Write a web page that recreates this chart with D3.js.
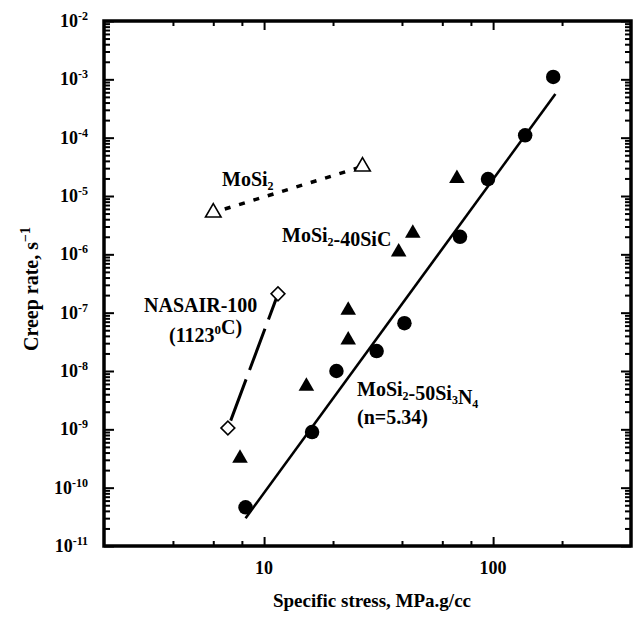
<!DOCTYPE html>
<html>
<head>
    <meta charset="utf-8">
    <script src="https://d3js.org/d3.v7.min.js"></script>
    <style>
        body { margin: 0; background: #fff; }
        text { font-family: "Liberation Serif", "Times New Roman", serif; font-weight: bold; fill: #000; }
        .tick line { stroke: #000; stroke-width: 2px; }
    </style>
</head>
<body>
<script>
    // Data (stress in MPa.g/cc, creep rate in 1/s)
    let mosi2Stress = [6.0, 26.9];
    let mosi2Rate = [5.2e-6, 3.2e-5];

    let nasairStress = [6.95, 11.5];
    let nasairRate = [1.05e-9, 2.1e-7];

    let sicStress = [7.85, 15.3, 23.3, 23.3, 38.7, 44.6, 69.5];
    let sicRate = [3.2e-10, 5.5e-9, 3.4e-8, 1.1e-7, 1.1e-6, 2.3e-6, 2.0e-5];

    let si3n4Stress = [8.3, 16.2, 20.7, 31, 41, 71.7, 95, 138, 183];
    let si3n4Rate = [4.6e-11, 9e-10, 1e-8, 2.2e-8, 6.6e-8, 2.0e-6, 1.95e-5, 1.1e-4, 1.1e-3];

    // fitted line (n = 5.34), end points
    let fitStress = [8.3, 187];
    let fitRate = [3.0e-11, 5.6e-4];

    // ticks
    let yExponents = [-2, -3, -4, -5, -6, -7, -8, -9, -10, -11];
    let xMajorTicks = [10, 100];
    let xMinorTicks = [4, 6, 8, 20, 40, 60, 80, 200];

    let width = 634, height = 617;
    let svg = d3.select("body").append("svg")
        .attr("width", width)
        .attr("height", height);

    let x = d3.scaleLog().domain([2, 400]).range([104, 631]);
    let y = d3.scaleLog().domain([1e-11, 1e-2]).range([546, 21]);

    let yMajor = yExponents.map(e => Math.pow(10, e));
    let yMinor = [];
    yExponents.slice(1).forEach(e => {
        for (let k = 2; k <= 9; k++) yMinor.push(k * Math.pow(10, e));
    });

    // tick marks, all pointing inwards
    function ticks(axis, values, size, transform) {
        svg.append("g")
            .attr("transform", transform)
            .call(axis.tickValues(values).tickSize(size).tickFormat(""))
            .call(g => g.select(".domain").remove());
    }
    ticks(d3.axisRight(y), yMajor, 10, "translate(104,0)");
    ticks(d3.axisRight(y), yMinor, 6, "translate(104,0)");
    ticks(d3.axisLeft(y), yMajor, 10, "translate(631,0)");
    ticks(d3.axisLeft(y), yMinor, 6, "translate(631,0)");
    ticks(d3.axisTop(x), xMajorTicks, 9, "translate(0,546)");
    ticks(d3.axisTop(x), xMinorTicks, 5, "translate(0,546)");
    ticks(d3.axisBottom(x), xMajorTicks, 9, "translate(0,21)");
    ticks(d3.axisBottom(x), xMinorTicks, 5, "translate(0,21)");

    // frame
    svg.append("rect")
        .attr("x", 104).attr("y", 21)
        .attr("width", 631 - 104).attr("height", 546 - 21)
        .attr("fill", "none")
        .attr("stroke", "#000")
        .attr("stroke-width", 3.5);

    // y tick labels 10^n
    let yl = svg.selectAll(".ylab")
        .data(yExponents)
        .enter().append("text")
        .attr("class", "ylab")
        .attr("x", 88)
        .attr("y", d => y(Math.pow(10, d)) + 6)
        .attr("text-anchor", "end")
        .style("font-size", "18px");
    yl.append("tspan").text("10");
    yl.append("tspan")
        .attr("dy", -7)
        .style("font-size", "12px")
        .text(d => String(d));

    // x tick labels
    svg.selectAll(".xlab")
        .data(xMajorTicks)
        .enter().append("text")
        .attr("class", "xlab")
        .attr("x", d => x(d))
        .attr("y", 574)
        .attr("text-anchor", "middle")
        .style("font-size", "18px")
        .text(d => d);

    // axis titles
    svg.append("text")
        .attr("x", 372).attr("y", 607)
        .attr("text-anchor", "middle")
        .style("font-size", "19px")
        .text("Specific stress, MPa.g/cc");

    let yt = svg.append("text")
        .attr("transform", "translate(38,289) rotate(-90)")
        .attr("text-anchor", "middle")
        .style("font-size", "20px");
    yt.append("tspan").text("Creep rate, s");
    yt.append("tspan").attr("dy", -8).style("font-size", "14px").text("\u22121");

    // lines
    let line = d3.line().x(d => x(d[0])).y(d => y(d[1]));

    svg.append("path")
        .datum(d3.zip(fitStress, fitRate))
        .attr("d", line)
        .attr("fill", "none")
        .attr("stroke", "#000")
        .attr("stroke-width", 2.6);

    svg.append("path")
        .datum(d3.zip(mosi2Stress, mosi2Rate))
        .attr("d", line)
        .attr("fill", "none")
        .attr("stroke", "#000")
        .attr("stroke-width", 3.5)
        .attr("stroke-dasharray", "6,9")
        .attr("stroke-dashoffset", -12);

    svg.append("path")
        .datum(d3.zip(nasairStress, nasairRate))
        .attr("d", line)
        .attr("fill", "none")
        .attr("stroke", "#000")
        .attr("stroke-width", 3)
        .attr("stroke-dasharray", "44,10")
        .attr("stroke-dashoffset", -8);

    // markers
    let circle = d3.symbol().type(d3.symbolCircle).size(165);
    let tri = d3.symbol().type(d3.symbolTriangle).size(105);
    let square = d3.symbol().type(d3.symbolSquare).size(95);

    svg.selectAll(".c")
        .data(d3.zip(si3n4Stress, si3n4Rate))
        .enter().append("path")
        .attr("d", circle)
        .attr("transform", d => `translate(${x(d[0])},${y(d[1])})`)
        .attr("fill", "#000");

    svg.selectAll(".t")
        .data(d3.zip(sicStress, sicRate))
        .enter().append("path")
        .attr("d", tri)
        .attr("transform", d => `translate(${x(d[0])},${y(d[1])})`)
        .attr("fill", "#000");

    svg.selectAll(".ot")
        .data(d3.zip(mosi2Stress, mosi2Rate))
        .enter().append("path")
        .attr("d", tri)
        .attr("transform", d => `translate(${x(d[0])},${y(d[1])})`)
        .attr("fill", "#fff")
        .attr("stroke", "#000")
        .attr("stroke-width", 1.6);

    svg.selectAll(".od")
        .data(d3.zip(nasairStress, nasairRate))
        .enter().append("path")
        .attr("d", square)
        .attr("transform", d => `translate(${x(d[0])},${y(d[1])}) rotate(45)`)
        .attr("fill", "#fff")
        .attr("stroke", "#000")
        .attr("stroke-width", 1.6);

    // series labels
    function label(px, py, parts) {
        let t = svg.append("text")
            .attr("x", px).attr("y", py)
            .style("font-size", "20px");
        parts.forEach(p => {
            if (p[1] === "sub") {
                t.append("tspan").attr("dy", 4).style("font-size", "12px").text(p[0]);
                t.append("tspan").attr("dy", -4).text("");
            } else if (p[1] === "sup") {
                t.append("tspan").attr("dy", -8).style("font-size", "13px").text(p[0]);
                t.append("tspan").attr("dy", 8).text("");
            } else {
                t.append("tspan").text(p[0]);
            }
        });
    }
    label(222, 186, [["MoSi"], ["2", "sub"]]);
    label(282, 242, [["MoSi"], ["2", "sub"], ["-40SiC"]]);
    label(144, 312, [["NASAIR-100"]]);
    label(169, 342, [["(1123"], ["0", "sup"], ["C)"]]);
    label(357, 396, [["MoSi"], ["2", "sub"], ["-50Si"], ["3", "sub"], ["N"], ["4", "sub"]]);
    label(357, 424, [["(n=5.34)"]]);
</script>
</body>
</html>
